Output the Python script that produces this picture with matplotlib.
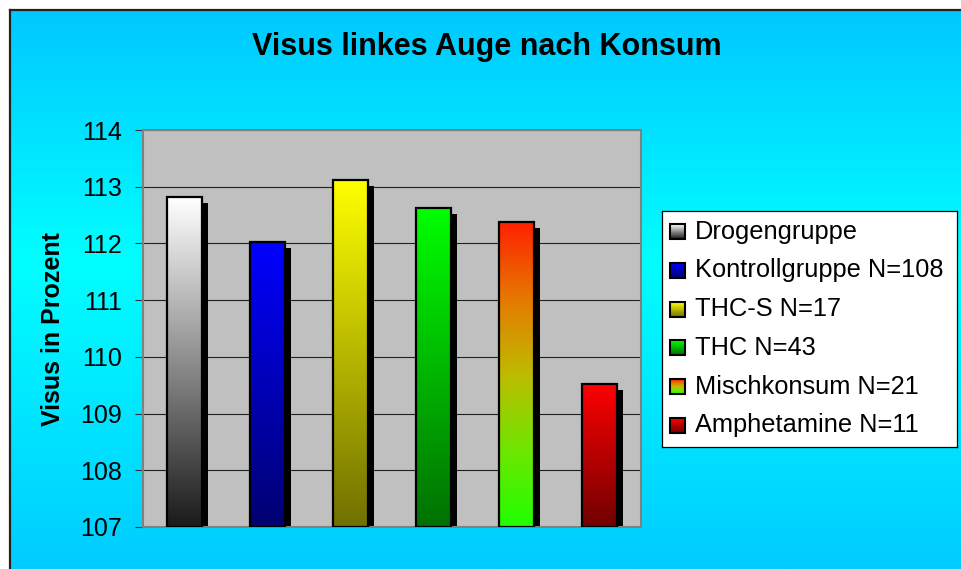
import numpy as np
import matplotlib
matplotlib.use("Agg")
import matplotlib.pyplot as plt
from matplotlib.colors import LinearSegmentedColormap
from matplotlib.transforms import ScaledTranslation
from matplotlib.patches import Rectangle

plt.rcParams["font.family"] = ["Liberation Sans", "DejaVu Sans"]

# ─── data ────────────────────────────────────────────────────────────
labels = ["Drogengruppe", "Kontrollgruppe N=108", "THC-S N=17",
          "THC N=43", "Mischkonsum N=21", "Amphetamine N=11"]
values = [112.81, 112.03, 113.11, 112.62, 112.38, 109.53]
y_ticks = [107, 108, 109, 110, 111, 112, 113, 114]

# gradient stops per bar, bottom -> top
grad_stops = [
    ["#1a1a1a", "#ffffff"],
    ["#000070", "#0000ff"],
    ["#707000", "#ffff00"],
    ["#007000", "#00ff00"],
    ["#20ff00", "#6ee600", "#bebb00", "#e67800", "#ff2000"],
    ["#700000", "#ff0000"],
]

W, H, DPI = 962, 569, 100
fig = plt.figure(figsize=(W / DPI, H / DPI), dpi=DPI, facecolor="white")


def px_axes(x0, y0, x1, y1, **kw):
    # axes from pixel box (top-left origin)
    return fig.add_axes([x0 / W, 1 - y1 / H, (x1 - x0) / W, (y1 - y0) / H], **kw)


# ─── cyan chart-area background ──────────────────────────────────────
bg = px_axes(10, 10, W, H)
bg_cmap = LinearSegmentedColormap.from_list(
    "bg", [(0, "#00ccff"), (0.55, "#00ffff"), (1, "#00c8ff")])
bg.imshow(np.linspace(0, 1, 256)[:, None], cmap=bg_cmap, aspect="auto",
          extent=(0, 1, 0, 1), origin="lower")
bg.set_xticks([]); bg.set_yticks([])
for s in ("right", "bottom"):
    bg.spines[s].set_visible(False)
for s in ("top", "left"):
    bg.spines[s].set_color("#222222")
    bg.spines[s].set_linewidth(1.6)
bg.set_zorder(-1)

# ─── main plot ───────────────────────────────────────────────────────
ax = px_axes(143, 130, 641, 527)
ax.set_facecolor("#c0c0c0")
x = np.arange(len(values))
bw = 0.41
heights = [v - y_ticks[0] for v in values]

shadow = ax.bar(x, heights, bottom=y_ticks[0], width=bw, color="black",
                linewidth=0, zorder=2)
off = ScaledTranslation(6 / DPI, -6 / DPI, fig.dpi_scale_trans)
for p in shadow:
    p.set_transform(ax.transData + off)

for xi, v, stops in zip(x, values, grad_stops):
    cm = LinearSegmentedColormap.from_list("g", stops)
    ax.imshow(np.linspace(0, 1, 256)[:, None], cmap=cm, aspect="auto",
              origin="lower", extent=(xi - bw / 2, xi + bw / 2, y_ticks[0], v),
              interpolation="bilinear", zorder=3)

ax.bar(x, heights, bottom=y_ticks[0], width=bw, facecolor="none",
       edgecolor="black", linewidth=1.6, zorder=4)

ax.set_xlim(-0.5, len(values) - 0.5)
ax.set_ylim(y_ticks[0], y_ticks[-1])
ax.set_yticks(y_ticks)
ax.set_xticks([])
ax.yaxis.grid(True, color="#202020", linewidth=0.8)
ax.set_axisbelow(True)
ax.tick_params(axis="y", length=6, width=0.8, pad=9, labelsize=18,
               color="#333333")
for s in ax.spines.values():
    s.set_color("#808080")
    s.set_linewidth(1.5)

fig.text(486.5 / W, 1 - 47 / H, "Visus linkes Auge nach Konsum",
         ha="center", va="center", fontsize=22, fontweight="bold")
fig.text(53 / W, 1 - 329 / H, "Visus in Prozent", rotation=90,
         ha="center", va="center", fontsize=18, fontweight="bold")

# ─── legend ──────────────────────────────────────────────────────────
lg = px_axes(662, 211, 957, 447)
lg.set_facecolor("white")
lg.set_xticks([]); lg.set_yticks([])
for s in lg.spines.values():
    s.set_color("black")
    s.set_linewidth(0.9)
for i, (lab, stops) in enumerate(zip(labels, grad_stops)):
    yc = 20.7 + i * 38.7
    cm = LinearSegmentedColormap.from_list("g", stops)
    lg.imshow(np.linspace(0, 1, 64)[:, None], cmap=cm, aspect="auto",
              origin="lower", extent=(8, 23, yc + 7.5, yc - 7.5),
              interpolation="bilinear")
    lg.add_patch(Rectangle((8, yc - 7.5), 15, 15, fill=False,
                           edgecolor="black", linewidth=1.5))
    lg.text(33, yc, lab, ha="left", va="center", fontsize=18.3)
lg.set_xlim(0, 295)
lg.set_ylim(236, 0)

fig.savefig("out.png", dpi=DPI, facecolor="white")
